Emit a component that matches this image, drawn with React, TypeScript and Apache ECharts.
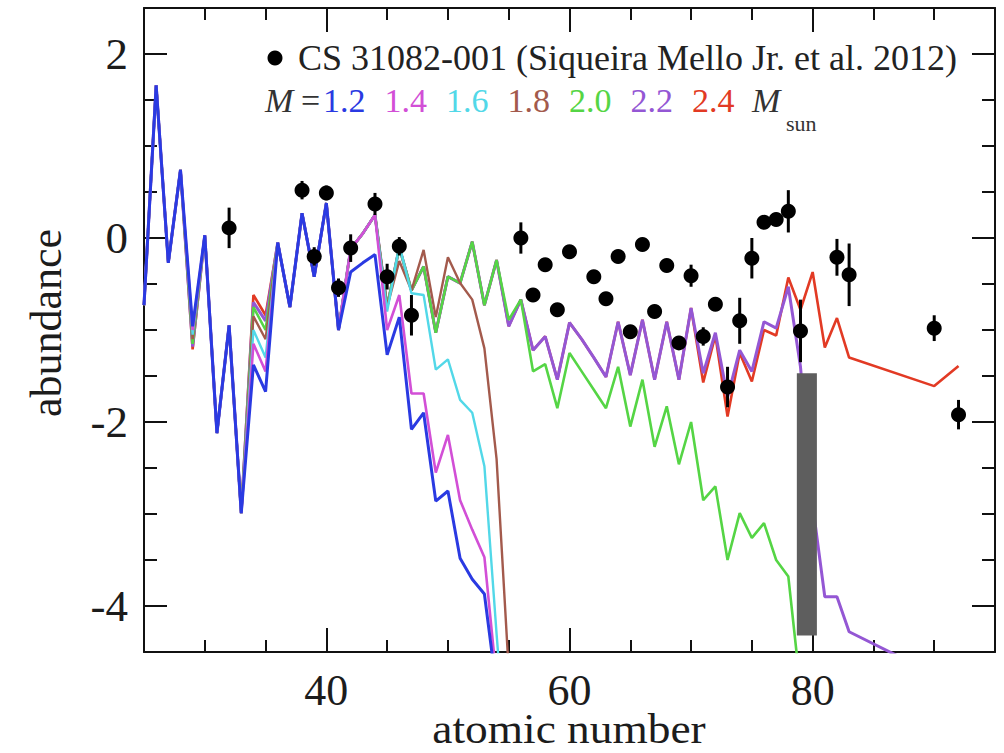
import React, { useEffect, useRef } from "react";
import * as echarts from "echarts";

// atomic numbers used by the model curves (no points for 84-89)
const Z = [
  25, 26, 27, 28, 29, 30, 31, 32, 33, 34,
  35, 36, 37, 38, 39, 40, 41, 42, 43, 44,
  45, 46, 47, 48, 49, 50, 51, 52, 53, 54,
  55, 56, 57, 58, 59, 60, 61, 62, 63, 64,
  65, 66, 67, 68, 69, 70, 71, 72, 73, 74,
  75, 76, 77, 78, 79, 80, 81, 82, 83, 90, 92,
];

const N10 = [null, null, null, null, null, null, null, null, null, null];

const M12 = [
  -0.73, 1.66, -0.27, 0.74, -0.96, 0.03, -2.12, -0.95, -2.99, -1.38,
  -1.67, -0.05, -0.75, 0.27, -0.42, 0.38, -1.0, -0.37, -0.27, -0.18,
  -1.27, -0.86, -2.08, -1.9, -2.86, -2.75, -3.48, -3.71, -3.87, -4.9,
  ...N10, ...N10, null, null, null, null, null, null, null, null, null, null, null,
];
const M14 = [
  -0.73, 1.66, -0.27, 0.74, -1.0, 0.03, -2.12, -0.95, -2.99, -1.15,
  -1.45, -0.05, -0.75, 0.27, -0.42, 0.38, -1.0, -0.12, 0.05, 0.25,
  -1.0, -0.62, -1.69, -1.69, -2.55, -2.14, -2.85, -3.17, -3.47, -4.8,
  ...N10, ...N10, null, null, null, null, null, null, null, null, null, null, null,
];
const M16 = [
  -0.73, 1.66, -0.27, 0.74, -1.05, 0.03, -2.12, -0.95, -2.99, -1.0,
  -1.3, -0.05, -0.75, 0.27, -0.42, 0.38, -1.0, -0.12, 0.05, 0.25,
  -0.8, -0.08, -0.6, -0.62, -1.43, -1.32, -1.76, -1.9, -2.48, -4.3,
  -6.0, null, null, null, null, null, null, null, null, null,
  ...N10, null, null, null, null, null, null, null, null, null, null, null,
];
const M18 = [
  -0.73, 1.66, -0.27, 0.74, -1.1, 0.03, -2.12, -0.95, -2.99, -0.85,
  -1.1, -0.05, -0.75, 0.27, -0.42, 0.38, -1.0, -0.12, 0.05, 0.25,
  -0.75, -0.25, -0.57, -0.13, -0.86, -0.21, -0.49, -0.67, -1.2, -2.4,
  -4.7, null, null, null, null, null, null, null, null, null,
  ...N10, null, null, null, null, null, null, null, null, null, null, null,
];
const M20 = [
  -0.73, 1.66, -0.27, 0.74, -1.15, 0.03, -2.12, -0.95, -2.99, -0.75,
  -1.0, -0.05, -0.75, 0.27, -0.42, 0.38, -1.0, -0.12, 0.05, 0.25,
  -0.75, -0.1, -0.57, -0.31, -1.03, -0.42, -0.49, -0.04, -0.73, -0.24,
  -0.89, -0.67, -1.45, -1.37, -1.85, -1.25, -1.45, -1.65, -1.85, -1.4,
  -2.05, -1.54, -2.27, -1.83, -2.46, -2.0, -2.85, -2.7, -3.5, -2.99,
  -3.26, -3.1, -3.5, -3.68, -4.9, null, null, null, null, null, null,
];
const M22 = [
  -0.73, 1.66, -0.27, 0.74, -1.18, 0.03, -2.12, -0.95, -2.99, -0.7,
  -0.9, -0.05, -0.75, 0.27, -0.42, 0.38, -1.0, -0.12, 0.05, 0.25,
  -0.75, -0.1, -0.57, -0.31, -1.03, -0.42, -0.49, -0.04, -0.73, -0.24,
  -0.96, -0.67, -1.22, -1.07, -1.54, -0.92, -1.1, -1.3, -1.51, -0.91,
  -1.49, -0.89, -1.54, -0.91, -1.54, -0.76, -1.47, -1.03, -1.73, -1.22,
  -1.45, -0.91, -0.98, -0.53, -1.4, -2.9, -3.9, -3.9, -4.28, -4.74, -4.9,
];
const M24 = [
  -0.73, 1.66, -0.27, 0.74, -1.21, 0.03, -2.12, -0.95, -2.99, -0.62,
  -0.84, -0.05, -0.75, 0.27, -0.42, 0.38, -1.0, -0.12, 0.05, 0.25,
  -0.75, -0.1, -0.57, -0.31, -1.03, -0.42, -0.49, -0.04, -0.73, -0.24,
  -0.96, -0.67, -1.22, -1.07, -1.54, -0.92, -1.1, -1.3, -1.51, -0.91,
  -1.49, -0.89, -1.54, -0.91, -1.54, -0.76, -1.57, -1.06, -1.94, -1.25,
  -1.56, -1.0, -1.06, -0.43, -0.78, -0.37, -1.19, -0.87, -1.3, -1.61, -1.39,
];

const MASS_LABELS = ["1.2", "1.4", "1.6", "1.8", "2.0", "2.2", "2.4"];
const MODELS = [M12, M14, M16, M18, M20, M22, M24];

// CS 31082-001 observations
const OBS_Z = [32, 38, 39, 40, 41, 42, 44, 45, 46, 47, 56, 57, 58, 59, 60, 62, 63, 64, 65, 66, 67, 68, 69, 70, 71, 72, 73, 74, 75, 76, 77, 78, 79, 82, 83, 90, 92];
const OBS_V = [0.11, 0.52, -0.2, 0.49, -0.54, -0.11, 0.37, -0.42, -0.09, -0.84, 0.0, -0.62, -0.29, -0.78, -0.15, -0.42, -0.66, -0.2, -1.02, -0.07, -0.8, -0.3, -1.14, -0.41, -1.07, -0.72, -1.62, -0.9, -0.22, 0.17, 0.2, 0.29, -1.01, -0.21, -0.4, -0.98, -1.92];
const OBS_ERR = [0.22, 0.1, 0.1, 0.08, 0.1, 0.15, 0.12, 0.14, 0.1, 0.22, 0.17, 0.06, 0.06, 0.06, 0.06, 0.06, 0.06, 0.06, 0.06, 0.06, 0.06, 0.06, 0.06, 0.12, 0.1, 0.06, 0.22, 0.25, 0.22, 0.06, 0.06, 0.23, 0.34, 0.2, 0.34, 0.14, 0.16];

const X_MAJOR = [40, 60, 80];
const X_MINOR = [30, 35, 45, 50, 55, 65, 70, 75, 85, 90];
const Y_MAJOR = [-4, -2, 0, 2];
const Y_MINOR = [-3.5, -3, -2.5, -1.5, -1, -0.5, 0.5, 1, 1.5];

// grey scan artefact band: [zFrom, zTo, top, bottom]
const BAND = [[78.7, 80.35, -1.47, -4.32]];

const OBS_LABEL = "CS 31082-001 (Siqueira Mello Jr. et al. 2012)";
const X_TITLE = "atomic number";
const Y_TITLE = "abundance";

const COLORS = ["#2a3ae2", "#d24fd6", "#52d8e8", "#a35a4c", "#55d545", "#9457d4", "#e23a24"];
const WIDTHS = [3, 2.6, 2.4, 2.4, 2.6, 3, 2.6];
const FONT = '"Liberation Serif", "Times New Roman", serif';
const INK = "#1c1c1c";

export default function App() {
  const ref = useRef<HTMLDivElement>(null);

  useEffect(() => {
    const chart = echarts.init(ref.current!, null, { renderer: "svg" });

    const mkX = (position: string, ticks: number[], len: number, label: boolean, line: boolean) => ({
      type: "value",
      min: 25,
      max: 95,
      position,
      axisLine: { show: line, onZero: false, lineStyle: { color: "#111", width: 2 } },
      axisTick: { show: true, inside: true, length: len, customValues: ticks, lineStyle: { color: "#111", width: 2 } },
      axisLabel: {
        show: label,
        customValues: ticks,
        margin: 16,
        fontSize: 44,
        fontFamily: FONT,
        color: INK,
        formatter: (v: number) => String(v),
      },
      splitLine: { show: false },
    });
    const mkY = (position: string, ticks: number[], len: number, label: boolean, line: boolean) => ({
      type: "value",
      min: -4.5,
      max: 2.5,
      position,
      axisLine: { show: line, onZero: false, lineStyle: { color: "#111", width: 2 } },
      axisTick: { show: true, inside: true, length: len, customValues: ticks, lineStyle: { color: "#111", width: 2 } },
      axisLabel: {
        show: label,
        customValues: ticks,
        margin: 16,
        fontSize: 45,
        fontFamily: FONT,
        color: INK,
        padding: [10, 0, 0, 0],
        formatter: (v: number) => String(v),
      },
      splitLine: { show: false },
    });

    const order = [6, 5, 4, 3, 2, 1, 0];
    const lineSeries = order.map((k) => ({
      type: "line",
      name: MASS_LABELS[k],
      data: Z.map((z, i) => [z, MODELS[k][i]]),
      showSymbol: false,
      symbol: "none",
      clip: true,
      lineStyle: { color: COLORS[k], width: WIDTHS[k] },
      z: 2,
    }));

    const legendX = (i: number) => 323 + i * 61.5;

    chart.setOption({
      animation: false,
      backgroundColor: "#ffffff",
      grid: { left: 144, right: 9, top: 8, bottom: 101 },
      xAxis: [
        mkX("bottom", X_MAJOR, 24, true, true),
        mkX("bottom", X_MINOR, 12, false, false),
        mkX("top", X_MAJOR, 24, false, true),
        mkX("top", X_MINOR, 12, false, false),
      ],
      yAxis: [
        mkY("left", Y_MAJOR, 23, true, true),
        mkY("left", Y_MINOR, 13, false, false),
        mkY("right", Y_MAJOR, 23, false, true),
        mkY("right", Y_MINOR, 13, false, false),
      ],
      series: [
        ...lineSeries,
        {
          type: "custom",
          name: "band",
          data: BAND,
          encode: { x: [0, 1], y: [2, 3] },
          z: 4,
          renderItem: (_p: any, api: any) => {
            const a = api.coord([api.value(0), api.value(2)]);
            const b = api.coord([api.value(1), api.value(3)]);
            return {
              type: "rect",
              shape: { x: a[0], y: a[1], width: b[0] - a[0], height: b[1] - a[1] },
              style: { fill: "#5e5e5e" },
            };
          },
        },
        {
          type: "custom",
          name: "errors",
          data: OBS_Z.map((z, i) => [z, OBS_V[i], OBS_ERR[i]]),
          encode: { x: 0, y: 1 },
          z: 5,
          renderItem: (_p: any, api: any) => {
            const x = api.value(0);
            const y = api.value(1);
            const e = api.value(2);
            const p1 = api.coord([x, y - e]);
            const p2 = api.coord([x, y + e]);
            return {
              type: "line",
              shape: { x1: p1[0], y1: p1[1], x2: p2[0], y2: p2[1] },
              style: { stroke: "#000", lineWidth: 3 },
            };
          },
        },
        {
          type: "scatter",
          name: "CS 31082-001",
          data: OBS_Z.map((z, i) => [z, OBS_V[i]]),
          symbol: "circle",
          symbolSize: 15,
          itemStyle: { color: "#000", opacity: 1 },
          z: 6,
        },
      ],
      graphic: [
        { type: "circle", shape: { cx: 275, cy: 58, r: 7.5 }, style: { fill: "#000" } },
        {
          type: "text",
          x: 298,
          y: 58,
          style: { text: OBS_LABEL, font: `36px ${FONT}`, fill: "#222", textVerticalAlign: "middle" },
        },
        {
          type: "text",
          x: 265,
          y: 100,
          style: { text: "M", font: `italic 34px ${FONT}`, fill: "#333", textVerticalAlign: "middle" },
        },
        {
          type: "text",
          x: 301,
          y: 100,
          style: { text: "=", font: `34px ${FONT}`, fill: "#333", textVerticalAlign: "middle" },
        },
        ...MASS_LABELS.map((m, i) => ({
          type: "text",
          x: legendX(i),
          y: 100,
          style: { text: m, font: `34px ${FONT}`, fill: COLORS[i], textVerticalAlign: "middle" },
        })),
        {
          type: "text",
          x: 752,
          y: 100,
          style: { text: "M", font: `italic 34px ${FONT}`, fill: "#333", textVerticalAlign: "middle" },
        },
        {
          type: "text",
          x: 786,
          y: 123,
          style: { text: "sun", font: `22px ${FONT}`, fill: "#333", textVerticalAlign: "middle" },
        },
        {
          type: "text",
          x: 569,
          y: 729,
          scaleX: 1.08,
          style: { text: X_TITLE, font: `42px ${FONT}`, fill: INK, textAlign: "center", textVerticalAlign: "middle" },
        },
        {
          type: "text",
          x: 46,
          y: 323,
          rotation: Math.PI / 2,
          style: { text: Y_TITLE, font: `44px ${FONT}`, fill: INK, textAlign: "center", textVerticalAlign: "middle" },
        },
      ],
    });

    return () => chart.dispose();
  }, []);

  return (
    <div
      ref={ref}
      style={{ position: "absolute", left: 0, top: 0, width: 1004, height: 753, background: "#fff" }}
    />
  );
}
